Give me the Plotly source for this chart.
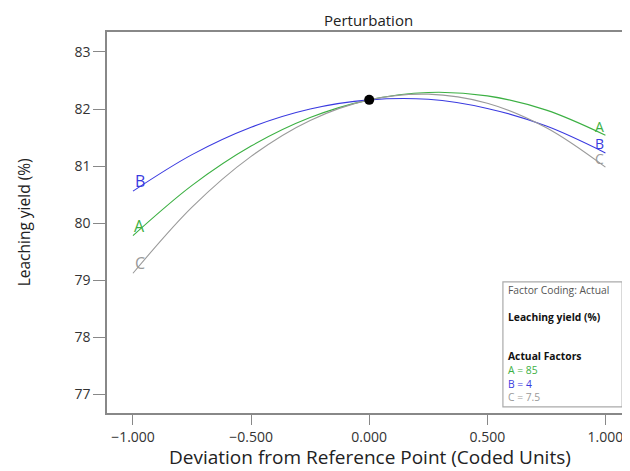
import plotly.graph_objects as go

# Data
x_dev = [-1.0, -0.75, -0.5, -0.25, 0.0, 0.25, 0.5, 0.75, 1.0]
yield_A = [79.78, 80.66, 81.35, 81.85, 82.16, 82.29, 82.23, 81.98, 81.54]
yield_B = [80.56, 81.20, 81.68, 82.00, 82.16, 82.17, 82.01, 81.70, 81.23]
yield_C = [79.12, 80.28, 81.17, 81.80, 82.16, 82.26, 82.10, 81.67, 80.98]
ref_x = [0.0]
ref_y = [82.16]
series_names = ["A", "B", "C"]
series_colors = ["#3cb043", "#3a3ae0", "#9a9a9a"]
x_ticks = [-1.0, -0.5, 0.0, 0.5, 1.0]
y_ticks = [77, 78, 79, 80, 81, 82, 83]
factor_lines = ["A = 85", "B = 4", "C = 7.5"]

FONT = "Open Sans"
fig = go.Figure()
series = [yield_A, yield_B, yield_C]
for name, ys, col in zip(series_names, series, series_colors):
    fig.add_trace(go.Scatter(x=x_dev, y=ys, mode="lines", name=name,
                             line=dict(color=col, width=1.1, shape="spline"),
                             showlegend=False, hoverinfo="skip"))
fig.add_trace(go.Scatter(x=ref_x, y=ref_y, mode="markers",
                         marker=dict(color="black", size=10), showlegend=False))

# End labels on the curves
for name, ys, col in zip(series_names, series, series_colors):
    fig.add_annotation(x=x_dev[0], y=ys[0], text=name, showarrow=False, borderpad=0,
                       xshift=7, yshift=10, font=dict(family=FONT, size=16, color=col))
    fig.add_annotation(x=x_dev[-1], y=ys[-1], text=name, showarrow=False, borderpad=0,
                       xshift=-6, yshift=9, font=dict(family=FONT, size=14, color=col))

# Title
fig.add_annotation(xref="paper", yref="paper", x=0.5, y=1.031, text="Perturbation",
                   showarrow=False, yanchor="middle",
                   font=dict(family=FONT, size=15, color="#222"))

# Axis titles
fig.add_annotation(xref="paper", yref="paper", x=0.503, y=-0.116,
                   text="Deviation from Reference Point (Coded Units)",
                   showarrow=False, yanchor="middle", borderpad=0,
                   font=dict(family=FONT, size=19, color="#222"))
fig.add_annotation(xref="paper", yref="paper", x=-0.159, y=0.5,
                   text="Leaching yield (%)", textangle=-90,
                   showarrow=False, xanchor="center", yanchor="middle",
                   font=dict(family=FONT, size=15.5, color="#222"))

# Factor box
fig.add_shape(type="rect", xref="paper", yref="paper", x0=0.757, x1=0.985,
              y0=0.016, y1=0.344, line=dict(color="#aaaaaa", width=1.2),
              fillcolor="white")
box_x = 0.765
FS = 10.3
def box_text(txt, yy, col):
    fig.add_annotation(xref="paper", yref="paper", x=box_x, y=yy, xanchor="left",
                       yanchor="middle", showarrow=False, text=txt, borderpad=0,
                       font=dict(family=FONT, size=FS, color=col))
box_text("Factor Coding: Actual", 0.323, "#555")
box_text("<b>Leaching yield (%)</b>", 0.252, "#111")
box_text("<b>Actual Factors</b>", 0.150, "#111")
for txt, yy, col in zip(factor_lines, [0.113, 0.077, 0.041], series_colors):
    box_text(txt, yy, col)

# The page body adds an 8px margin, so the figure is sized 8px smaller.
fig.update_layout(
    width=622, height=463,
    margin=dict(l=99, r=0, t=24, b=58),
    paper_bgcolor="white", plot_bgcolor="white",
    font=dict(family=FONT, color="#333"),
    xaxis=dict(range=[-1.11, 1.104], tickvals=x_ticks, tickformat=".3f",
               automargin=False,
               showgrid=False, zeroline=False, showline=True, linecolor="#888",
               linewidth=1.5, mirror=True, ticks="outside", ticklen=10,
               tickcolor="#888", tickfont=dict(size=14, color="#333")),
    yaxis=dict(range=[76.67, 83.35], tickvals=y_ticks, showgrid=False,
               automargin=False,
               zeroline=False, showline=True, linecolor="#888", linewidth=1.5,
               ticks="outside", ticklen=12, tickcolor="#888",
               tickfont=dict(size=14, color="#333")),
)

fig.write_html("out.html")
